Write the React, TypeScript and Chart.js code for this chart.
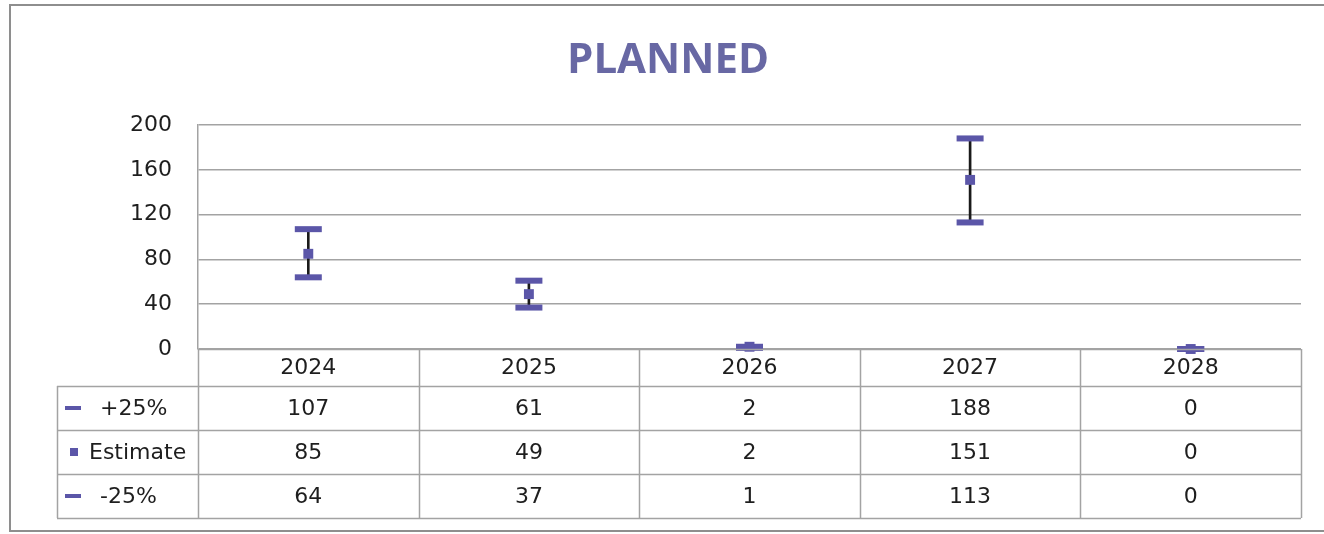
import React, { useEffect, useRef } from "react";
import { Chart, registerables } from "chart.js";

Chart.register(...registerables);

const title = "PLANNED";
const categories = ["2024", "2025", "2026", "2027", "2028"];
const plus25 = [107, 61, 2, 188, 0];
const estimate = [85, 49, 2, 151, 0];
const minus25 = [64, 37, 1, 113, 0];
const yTicks = [0, 40, 80, 120, 160, 200];
const seriesLabels = ["+25%", "Estimate", "-25%"];

const PURPLE = "#5b56a8";
const TITLE_COLOR = "#6868a4";
const GRID = "#a3a3a3";
const TEXT = "#1e1e1e";
const FONT = "'DejaVu Sans', sans-serif";

const W = 1324;
const H = 534;

const framePlugin = {
  id: "frame",
  beforeDraw(chart: any) {
    const { ctx } = chart;
    ctx.save();
    ctx.fillStyle = "#ffffff";
    ctx.fillRect(0, 0, W, H);
    ctx.strokeStyle = "#8e8e8e";
    ctx.lineWidth = 2;
    ctx.strokeRect(10, 5, W + 20, 526);
    ctx.fillStyle = TITLE_COLOR;
    ctx.font = "bold 42px 'Open Sans', sans-serif";
    ctx.textAlign = "center";
    ctx.textBaseline = "alphabetic";
    ctx.fillText(title, 668, 73);
    ctx.restore();
  },
};

const tablePlugin = {
  id: "dataTable",
  afterDraw(chart: any) {
    const { ctx, chartArea } = chart;
    const x = chart.scales.x;
    const left = chartArea.left;
    const right = chartArea.right;
    const top = chartArea.bottom;
    const headerH = 37;
    const rowH = 44;
    const legendLeft = 57;
    const n = categories.length;
    const colW = (right - left) / n;
    const rowsData = [plus25, estimate, minus25];
    const bottom = top + headerH + rowH * rowsData.length;

    ctx.save();
    ctx.strokeStyle = GRID;
    ctx.lineWidth = 1.5;
    ctx.beginPath();
    // horizontal lines
    ctx.moveTo(left, top + 0.5);
    ctx.lineTo(right, top + 0.5);
    for (let r = 0; r <= rowsData.length; r++) {
      const y = Math.round(top + headerH + rowH * r) + 0.5;
      ctx.moveTo(legendLeft, y);
      ctx.lineTo(right, y);
    }
    // vertical lines
    ctx.moveTo(legendLeft + 0.5, top + headerH);
    ctx.lineTo(legendLeft + 0.5, bottom);
    for (let k = 0; k <= n; k++) {
      const xx = Math.round(left + colW * k) + 0.5;
      ctx.moveTo(xx, top);
      ctx.lineTo(xx, bottom);
    }
    ctx.stroke();

    // values
    ctx.fillStyle = TEXT;
    ctx.font = `22px ${FONT}`;
    ctx.textAlign = "center";
    ctx.textBaseline = "middle";
    rowsData.forEach((row, r) => {
      const cy = top + headerH + rowH * r + rowH / 2 + 1;
      row.forEach((v, i) => {
        ctx.fillText(String(v), x.getPixelForValue(i), cy);
      });
    });

    // legend keys
    ctx.textAlign = "left";
    seriesLabels.forEach((lab, r) => {
      const cy = top + headerH + rowH * r + rowH / 2;
      ctx.fillStyle = PURPLE;
      if (r === 1) {
        ctx.fillRect(70, cy - 4, 8, 8);
        ctx.fillStyle = TEXT;
        ctx.fillText(lab, 89, cy + 1);
      } else {
        ctx.fillRect(65, cy - 2, 16, 4);
        ctx.fillStyle = TEXT;
        ctx.fillText(lab, 100, cy + 1);
      }
    });
    ctx.restore();
  },
};

export default function App() {
  const ref = useRef<HTMLCanvasElement | null>(null);

  useEffect(() => {
    if (!ref.current) return;
    const chart = new Chart(ref.current, {
      type: "line",
      data: {
        labels: categories,
        datasets: [
          {
            type: "bar",
            label: "range",
            data: minus25.map((lo, i) => [lo, plus25[i]]) as any,
            backgroundColor: "#1a1a1a",
            barThickness: 2,
            order: 10,
          } as any,
          {
            label: seriesLabels[0],
            data: plus25,
            showLine: false,
            pointStyle: "line",
            pointRadius: 13.5,
            pointBorderWidth: 6,
            borderColor: PURPLE,
            backgroundColor: PURPLE,
            clip: false,
            order: 1,
          },
          {
            label: seriesLabels[1],
            data: estimate,
            showLine: false,
            pointStyle: "rect",
            pointRadius: 7,
            pointBorderWidth: 0,
            borderColor: PURPLE,
            backgroundColor: PURPLE,
            clip: false,
            order: 0,
          },
          {
            label: seriesLabels[2],
            data: minus25,
            showLine: false,
            pointStyle: "line",
            pointRadius: 13.5,
            pointBorderWidth: 6,
            borderColor: PURPLE,
            backgroundColor: PURPLE,
            clip: false,
            order: 1,
          },
        ],
      },
      options: {
        responsive: false,
        devicePixelRatio: 1,
        animation: false,
        events: [],
        layout: { padding: { left: 0, top: 125, right: 23, bottom: 0 } },
        plugins: {
          legend: { display: false },
          title: { display: false },
          tooltip: { enabled: false },
        },
        scales: {
          x: {
            type: "category",
            offset: true,
            grid: { display: false, drawTicks: false },
            border: { display: false },
            ticks: {
              font: { family: FONT, size: 22 },
              color: TEXT,
              padding: 6,
              maxRotation: 0,
            },
            afterFit: (s: any) => {
              s.height = 185;
            },
          },
          y: {
            min: 0,
            max: 200,
            grid: { color: GRID, lineWidth: 1.5, drawTicks: false },
            border: { display: true, color: GRID, width: 1.5 },
            ticks: {
              font: { family: FONT, size: 22 },
              color: TEXT,
              padding: 26,
            },
            afterBuildTicks: (s: any) => {
              s.ticks = yTicks.map((v) => ({ value: v }));
            },
            afterFit: (s: any) => {
              s.width = 198;
            },
          },
        },
      },
      plugins: [framePlugin, tablePlugin],
    } as any);
    return () => chart.destroy();
  }, []);

  return (
    <div style={{ position: "fixed", left: 0, top: 0, width: W, height: H }}>
      <canvas ref={ref} width={W} height={H} style={{ display: "block" }} />
    </div>
  );
}
